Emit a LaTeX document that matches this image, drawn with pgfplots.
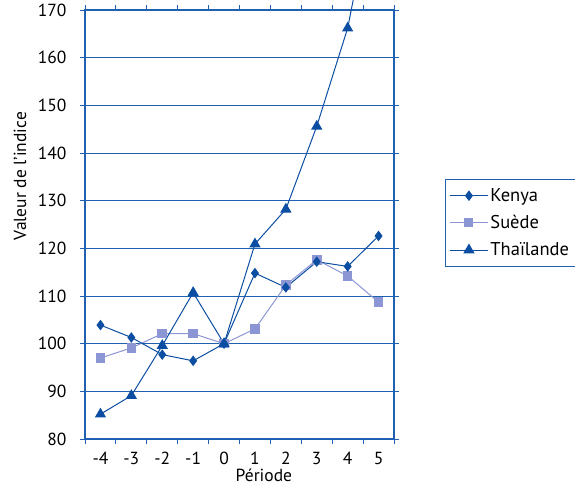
\documentclass[border=0pt]{standalone}
\usepackage{pgfplots}
\pgfplotsset{compat=1.18}
\usepackage{fontspec}
\setmainfont{PT Sans}
\definecolor{dblue}{RGB}{12,78,162}
\definecolor{lblue}{RGB}{140,150,212}
\definecolor{gblue}{RGB}{32,96,176}
\begin{document}
\begin{tikzpicture}
\useasboundingbox (0,0) rectangle (575pt,487pt);
\clip (0,0) rectangle (575pt,487pt);
\begin{axis}[
  at={(85pt,48pt)}, anchor=south west,
  scale only axis, width=309pt, height=429pt,
  xmin=-0.5, xmax=9.5, ymin=80, ymax=170,
  clip=false,
  font=\fontsize{17.5}{20}\selectfont,
  /pgf/number format/assume math mode=true,
  axis line style={gblue, line width=1.1pt},
  xtick={0,...,9},
  xticklabels={-4,-3,-2,-1,0,1,2,3,4,5},
  minor xtick={-0.5,0.5,...,9.5},
  major x tick style={draw=none},
  minor tick length=5pt,
  ytick={80,90,...,170},
  tick align=outside,
  major tick length=5pt,
  tick style={gblue, line width=1pt},
  ymajorgrids, grid style={gblue, line width=0.9pt},
  xticklabel style={yshift=-5pt},
  yticklabel style={xshift=-10pt},
  ylabel={Valeur de l'indice},
  ylabel style={at={(rel axis cs:-0.21,0.613)}, anchor=center, rotate=0},
  xlabel={Période},
  xlabel style={at={(rel axis cs:0.579,-0.084)}, anchor=center},
  legend style={at={(rel axis cs:1.165,0.606)}, anchor=north west,
    draw=gblue, line width=0.9pt, font=\fontsize{18.5}{21}\selectfont,
    row sep=8.5pt, inner xsep=4pt, inner ysep=7pt},
  legend cell align=left,
  legend image code/.code={\draw[mark repeat=2,mark phase=2] plot coordinates {(0pt,0pt) (19pt,0pt) (38pt,0pt)};},
]
\addlegendimage{dblue, line width=1pt, mark=diamond*, mark size=4.5pt, mark options={solid, fill=dblue, draw=dblue}}
\addlegendentry{Kenya}
\addlegendimage{lblue, line width=1pt, mark=square*, mark size=4pt, mark options={solid, fill=lblue, draw=lblue}}
\addlegendentry{Suède}
\addlegendimage{dblue, line width=1pt, mark=triangle*, mark size=5.5pt, mark options={solid, fill=dblue, draw=dblue}}
\addlegendentry{Thaïlande}
% Suède
\addplot[forget plot, lblue, line width=1pt, mark=square*, mark size=4.3pt, mark options={fill=lblue, draw=lblue}]
 coordinates {(0,97.0) (1,99.1) (2,102.1) (3,102.1) (4,100) (5,103.1) (6,112.3) (7,117.6) (8,114.2) (9,108.7)};
% Kenya
\addplot[forget plot, dblue, line width=1pt, mark=diamond*, mark size=4.5pt, mark options={fill=dblue, draw=dblue}]
 coordinates {(0,103.9) (1,101.3) (2,97.7) (3,96.4) (4,100) (5,114.8) (6,111.8) (7,117.2) (8,116.2) (9,122.6)};
% Thaïlande
\addplot[forget plot, dblue, line width=1pt, mark=triangle*, mark size=5.5pt, mark options={fill=dblue, draw=dblue}]
 coordinates {(0,85.2) (1,89.1) (2,99.6) (3,110.7) (4,100) (5,120.9) (6,128.2) (7,145.6) (8,166.2) (9,199)};
\end{axis}
\end{tikzpicture}
\end{document}
